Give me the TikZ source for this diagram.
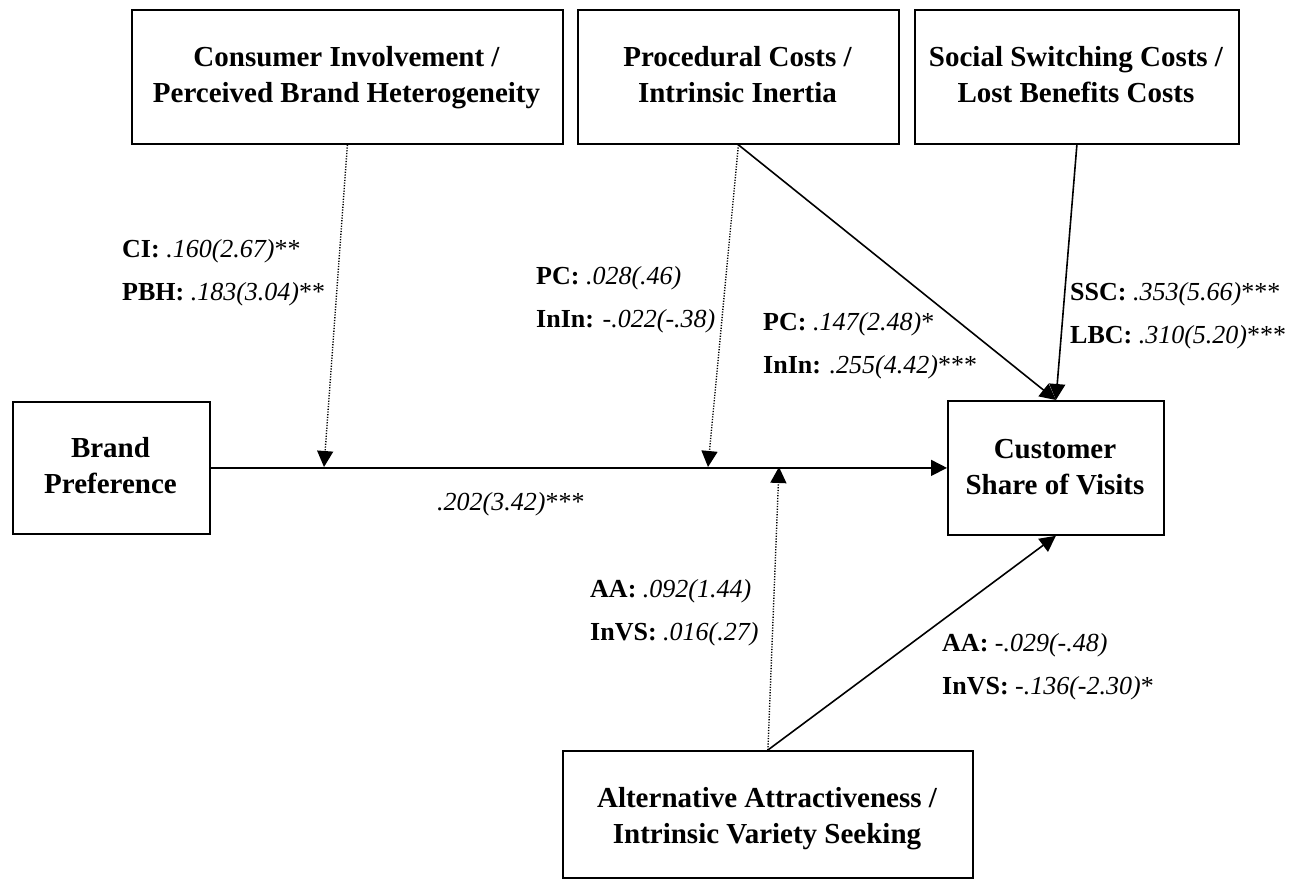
\documentclass[tikz,border=0pt]{standalone}
\usepackage{fontspec}
\setmainfont{Liberation Serif}
\usetikzlibrary{arrows.meta}
% two-line centred box caption, baseline at its first line
\newcommand{\twoline}[2]{\begin{tabular}[t]{@{}c@{}}#1\\#2\end{tabular}}
% two-line left-aligned coefficient block
\newcommand{\coefpair}[2]{\begin{tabular}[t]{@{}l@{}}#1\\#2\end{tabular}}
\begin{document}
\begin{tikzpicture}[x=1pt,y=-1pt,
  box/.style={draw, line width=1.8pt, inner sep=0pt, anchor=north west},
  boxtext/.style={anchor=base, inner sep=0pt, font=\fontsize{29}{36}\selectfont\bfseries},
  coef/.style={anchor=base west, inner sep=0pt, font=\fontsize{26}{43}\selectfont},
  effect/.style={line width=1.6pt, -{Triangle[length=16pt,width=16pt]}},
  moderation/.style={line width=1.4pt, dash pattern=on 1.2pt off 1.5pt, -{Triangle[length=16pt,width=16pt]}},
]
\useasboundingbox (0,0) rectangle (1304,880);

% ---- construct boxes ----
\node[box, minimum width=431pt, minimum height=134pt] (ci)  at (131,9) {};
\node[box, minimum width=321pt, minimum height=134pt] (pc)  at (577,9) {};
\node[box, minimum width=324pt, minimum height=134pt] (ssc) at (914,9) {};
\node[box, minimum width=197pt, minimum height=132pt] (bp)  at (12,401) {};
\node[box, minimum width=216pt, minimum height=134pt] (csv) at (947,400) {};
\node[box, minimum width=410pt, minimum height=127pt] (aa)  at (562,750) {};

% ---- box captions ----
\node[boxtext] (ci-t)  at (346.5,67) {\twoline{Consumer Involvement /}{Perceived Brand Heterogeneity}};
\node[boxtext] (pc-t)  at (737.5,67) {\twoline{Procedural Costs /}{Intrinsic Inertia}};
\node[boxtext] (ssc-t) at (1076,67)  {\twoline{Social Switching Costs /}{Lost Benefits Costs}};
\node[boxtext] (bp-t)  at (110.5,457) {\twoline{Brand}{Preference}};
\node[boxtext] (csv-t) at (1055,458) {\twoline{Customer}{Share of Visits}};
\node[boxtext] (aa-t)  at (767,807)  {\twoline{Alternative Attractiveness /}{Intrinsic Variety Seeking}};

% ---- points on the main path where moderators act ----
\coordinate (m1) at (324,467);
\coordinate (m2) at (708,467);
\coordinate (m3) at (779,467);

% ---- main effect ----
\draw[effect] (bp.east) -- (csv.west);

% ---- moderating effects (dotted) ----
\draw[moderation] (ci.south) -- (m1);
\draw[moderation] (pc.south) -- (m2);
\draw[moderation] (aa.north) -- (m3);

% ---- direct effects on share of visits ----
\draw[effect] (pc.south) -- (csv.north);
\draw[effect] (ssc.south) -- (csv.north);
\draw[effect] (aa.north) -- (csv.south);

% ---- coefficients ----
\node[coef] (c-ci) at (122,257) {\coefpair{\textbf{CI:} \textit{.160(2.67)}**}{\textbf{PBH:} \textit{.183(3.04)}**}};
\node[coef] (c-pcm) at (536,284) {\coefpair{\textbf{PC:} \textit{.028(.46)}}{\textbf{InIn:} -\textit{.022(-.38)}}};
\node[coef] (c-pcd) at (763,330) {\coefpair{\textbf{PC:} \textit{.147(2.48)}*}{\textbf{InIn:} \textit{.255(4.42)}***}};
\node[coef] (c-ssc) at (1070,300) {\coefpair{\textbf{SSC:} \textit{.353(5.66)}***}{\textbf{LBC:} \textit{.310(5.20)}***}};
\node[coef] (c-main) at (437,510) {\textit{.202(3.42)}***};
\node[coef] (c-aam) at (590,597) {\coefpair{\textbf{AA:} \textit{.092(1.44)}}{\textbf{InVS:} \textit{.016(.27)}}};
\node[coef] (c-aad) at (942,651) {\coefpair{\textbf{AA:} -\textit{.029(-.48)}}{\textbf{InVS:} -\textit{.136(-2.30)}*}};
\end{tikzpicture}
\end{document}
